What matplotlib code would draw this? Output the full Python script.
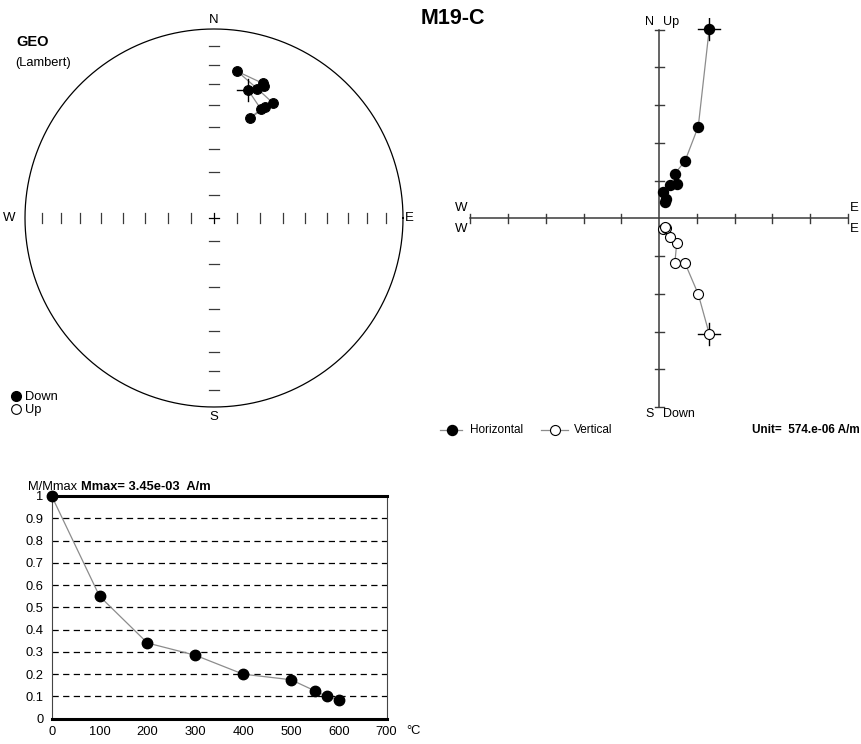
import numpy as np
import matplotlib
matplotlib.use("Agg")
import matplotlib.pyplot as plt

plt.rcParams['font.family'] = ['Liberation Sans', 'DejaVu Sans']

W, H = 861, 744

# ---------------- data ----------------
sample_name = "M19-C"
temps = [0, 100, 200, 300, 400, 500, 550, 575, 600]          # demag steps (deg C)
# Zijderveld components in plot units (Unit = 574e-06 A/m)
comp_north = [5.01, 2.43, 1.52, 1.18, 0.92, 0.87, 0.69, 0.50, 0.42]
comp_east = [1.33, 1.04, 0.69, 0.42, 0.47, 0.29, 0.11, 0.18, 0.16]
comp_down = [3.06, 2.01, 1.19, 1.18, 0.65, 0.50, 0.29, 0.25, 0.22]
# normalised intensity M/Mmax
m_norm = [1.0, 0.55, 0.34, 0.285, 0.20, 0.175, 0.125, 0.10, 0.085]
x_ticks = [0, 100, 200, 300, 400, 500, 600, 700]
y_ticks = [0, 0.1, 0.2, 0.3, 0.4, 0.5, 0.6, 0.7, 0.8, 0.9, 1.0]
y_ticklabels = ['0', '0.1', '0.2', '0.3', '0.4', '0.5', '0.6', '0.7', '0.8', '0.9', '1']
stereo_inc_ticks = [10, 20, 30, 40, 50, 60, 70, 80]
zij_ticks = [-5, -4, -3, -2, -1, 1, 2, 3, 4, 5]

fig = plt.figure(figsize=(W / 100, H / 100), dpi=100)
fig.patch.set_facecolor('white')


def px_axes(x0, y0, x1, y1):
    return fig.add_axes([x0 / W, 1 - y1 / H, (x1 - x0) / W, (y1 - y0) / H])


def ftext(x, y, s, **kw):
    kw.setdefault('va', 'center')
    return fig.text(x / W, 1 - y / H, s, **kw)


def fmark(x, y, **kw):
    fig.lines.append(plt.Line2D([x / W], [1 - y / H], transform=fig.transFigure,
                                figure=fig, **kw))


def fline(x0, x1, y, **kw):
    fig.lines.append(plt.Line2D([x0 / W, x1 / W], [1 - y / H] * 2,
                                transform=fig.transFigure, figure=fig, **kw))


LINEC = '#8c8c8c'
AXC = '#3a3a3a'

# ---------------- stereonet ----------------
R, L, cx, cy = 189.0, 1.12, 214.0, 218.0
ax1 = px_axes(cx - L * R, cy - L * R, cx + L * R, cy + L * R)
ax1.set_xlim(-L, L)
ax1.set_ylim(-L, L)
ax1.axis('off')
th = np.linspace(0, 2 * np.pi, 721)
ax1.plot(np.cos(th), np.sin(th), color='black', lw=0.9)
tk = 5.0 / R
for inc in stereo_inc_ticks:
    r = np.sqrt(2) * np.sin(np.radians(90 - inc) / 2)
    for s in (1, -1):
        ax1.plot([-tk, tk], [s * r, s * r], color=AXC, lw=0.9)
        ax1.plot([s * r, s * r], [-tk, tk], color=AXC, lw=0.9)
ax1.plot([-tk, tk], [0, 0], color='black', lw=0.9)
ax1.plot([0, 0], [-tk, tk], color='black', lw=0.9)

n = np.array(comp_north)
e = np.array(comp_east)
d = np.array(comp_down)
dec = np.degrees(np.arctan2(e, n))
inc = np.degrees(np.arctan2(d, np.hypot(n, e)))
rr = np.sqrt(2) * np.sin(np.radians(90 - np.abs(inc)) / 2)
sx = rr * np.sin(np.radians(dec))
sy = rr * np.cos(np.radians(dec))
ax1.plot(sx, sy, color=LINEC, lw=0.9, zorder=2)
ch = 11.0 / R
ax1.plot([sx[0] - ch, sx[0] + ch], [sy[0], sy[0]], color='black', lw=1.0, zorder=3)
ax1.plot([sx[0], sx[0]], [sy[0] - ch, sy[0] + ch], color='black', lw=1.0, zorder=3)
for xi, yi, ii in zip(sx, sy, inc):
    ax1.plot(xi, yi, 'o', ms=7, mfc='black' if ii >= 0 else 'white',
             mec='black', mew=0.8, zorder=4)

ftext(cx, 20, 'N', ha='center', fontsize=9.5)
ftext(cx, 417, 'S', ha='center', fontsize=9.5)
ftext(9, cy, 'W', ha='center', fontsize=9.5)
ftext(409, cy, 'E', ha='center', fontsize=9.5)
ftext(16, 42, 'GEO', ha='left', fontsize=10.5, fontweight='bold')
ftext(15, 63, '(Lambert)', ha='left', fontsize=9.3)
ftext(25, 397, 'Down', ha='left', fontsize=9.3)
ftext(25, 410, 'Up', ha='left', fontsize=9.3)
fmark(16, 396, marker='o', ms=7, mfc='black', mec='black')
fmark(16, 409, marker='o', ms=7, mfc='white', mec='black', mew=0.8)

# ---------------- Zijderveld ----------------
u, ox, oy, Z = 37.75, 659.0, 218.3, 5.3
ax2 = px_axes(ox - Z * u, oy - Z * u, ox + Z * u, oy + Z * u)
ax2.set_xlim(-Z, Z)
ax2.set_ylim(-Z, Z)
ax2.axis('off')
ax2.plot([-5, 5], [0, 0], color=AXC, lw=1.1)
ax2.plot([0, 0], [-5, 5], color=AXC, lw=1.1)
t2 = 4.5 / u
for t in zij_ticks:
    ax2.plot([t, t], [-t2, t2], color=AXC, lw=1.0)
    ax2.plot([-t2, t2], [t, t], color=AXC, lw=1.0)
ax2.plot(e, n, color=LINEC, lw=0.9, zorder=2)
ax2.plot(e, -d, color=LINEC, lw=0.9, zorder=2)
c2 = 11.0 / u
for yy in (n[0], -d[0]):
    ax2.plot([e[0] - c2, e[0] + c2], [yy, yy], color='black', lw=1.0, zorder=3)
    ax2.plot([e[0], e[0]], [yy - c2, yy + c2], color='black', lw=1.0, zorder=3)
ax2.plot(e, n, 'o', ms=7.2, mfc='black', mec='black', ls='none', zorder=4)
ax2.plot(e, -d, 'o', ms=7.2, mfc='white', mec='black', mew=0.8, ls='none', zorder=4)

ftext(453, 18, sample_name, ha='center', fontsize=15.5, fontweight='bold')
ftext(650, 22, 'N', ha='center', fontsize=9)
ftext(671, 22, 'Up', ha='center', fontsize=9)
ftext(650, 414, 'S', ha='center', fontsize=9)
ftext(663, 414, 'Down', ha='left', fontsize=9)
ftext(461, 208, 'W', ha='center', fontsize=9.5)
ftext(461, 229, 'W', ha='center', fontsize=9.5)
ftext(854, 208, 'E', ha='center', fontsize=9.5)
ftext(854, 229, 'E', ha='center', fontsize=9.5)

# legend row
fline(440, 462, 430, color=LINEC, lw=0.9)
fmark(451.5, 430, marker='o', ms=7.2, mfc='black', mec='black')
ftext(470, 430, 'Horizontal', ha='left', fontsize=8.5)
fline(541, 568, 430, color=LINEC, lw=0.9)
fmark(555, 430, marker='o', ms=7.2, mfc='white', mec='black', mew=0.8)
ftext(574, 430, 'Vertical', ha='left', fontsize=8.5)
ftext(860, 430, 'Unit=  574.e-06 A/m', ha='right', fontsize=8.5, fontweight='bold')

# ---------------- intensity decay ----------------
ax3 = px_axes(51.7, 496, 386.7, 718.7)
ax3.set_xlim(0, 700)
ax3.set_ylim(0, 1)
for yv in y_ticks[1:-1]:
    ax3.axhline(yv, color='black', lw=0.9, ls=(0, (5, 3.5)), zorder=1)
ax3.plot(temps, m_norm, color=LINEC, lw=0.9, zorder=2, clip_on=False)
ax3.plot(temps, m_norm, 'o', ms=7.5, mfc='black', mec='black', ls='none',
         zorder=4, clip_on=False)
for sp in ('top', 'bottom'):
    ax3.spines[sp].set_linewidth(2.2)
    ax3.spines[sp].set_color('black')
for sp in ('left', 'right'):
    ax3.spines[sp].set_linewidth(0.8)
    ax3.spines[sp].set_color('#444444')
ax3.set_xticks(x_ticks)
ax3.set_xticklabels([str(v) for v in x_ticks])
ax3.set_yticks(y_ticks)
ax3.set_yticklabels(y_ticklabels)
ax3.tick_params(axis='y', length=0, labelsize=9.3, pad=6)
ax3.tick_params(axis='x', length=0, labelsize=9.3, pad=5)
ftext(406, 731, '°C', ha='left', fontsize=9.3)
ftext(77, 487, 'M/Mmax', ha='right', fontsize=9.3)
ftext(81, 487, 'Mmax= 3.45e-03  A/m', ha='left', fontsize=9.3, fontweight='bold')

fig.savefig('out.png', dpi=100, facecolor='white')
